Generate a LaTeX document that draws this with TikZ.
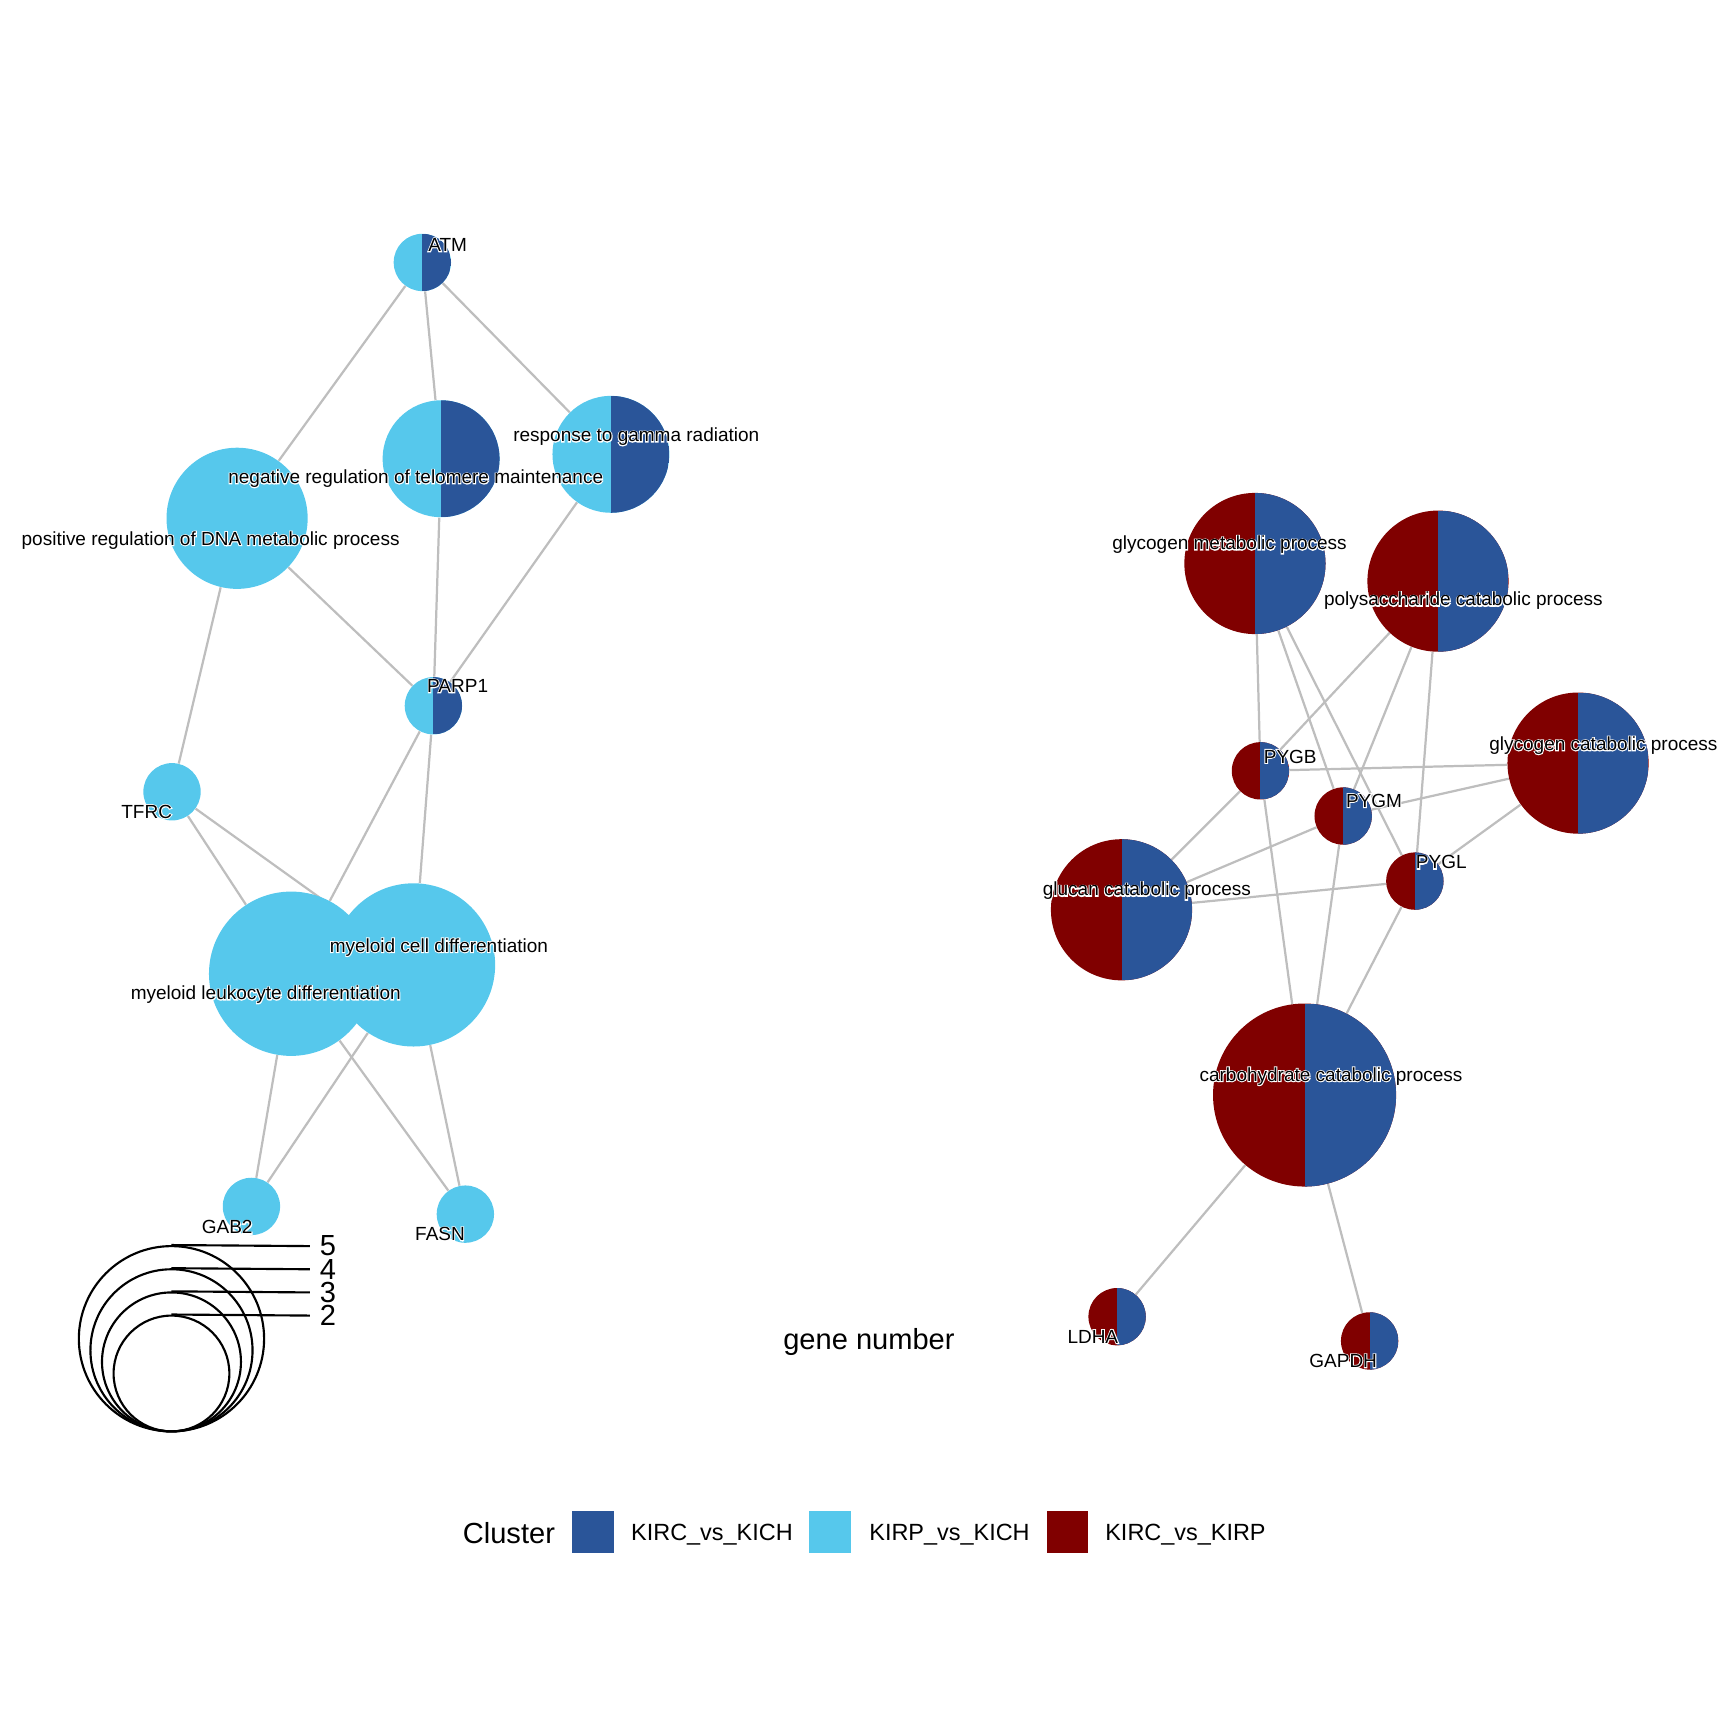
\documentclass[tikz,border=0pt]{standalone}
\usepackage{fontspec}
\setmainfont{Liberation Sans}
\newfontfamily\halofont[FakeBold=10]{Liberation Sans}
\usetikzlibrary{backgrounds}
\definecolor{kirckich}{HTML}{2A5599}
\definecolor{kirpkich}{HTML}{56C8EC}
\definecolor{kirckirp}{HTML}{800000}
\definecolor{edgegrey}{HTML}{BEBEBE}
\newcommand{\halo}[1]{\makebox[0pt][l]{\color{white}\halofont #1}#1}
\tikzset{
  term/.style={circle,inner sep=0pt,minimum size=#1},
  halves/.style 2 args={fill=#1,path picture={\fill[#2] (path picture bounding box.north) rectangle (path picture bounding box.south east);}},
  edge/.style={draw=edgegrey,line width=1.15pt},
  lbl/.style={inner sep=0pt,font=\fontsize{9.8}{11}\selectfont},
  ring/.style={circle,draw=black,line width=1.1pt,inner sep=0pt,minimum size=#1},
  ringline/.style={draw=black,line width=1.1pt},
  bigtext/.style={inner sep=0pt,font=\fontsize{15}{17}\selectfont},
  keybox/.style={fill=#1,inner sep=0pt,minimum size=7.6mm},
  keytext/.style={inner sep=0pt,anchor=base west,font=\fontsize{12.1}{14}\selectfont},
}
\begin{document}
\begin{tikzpicture}[x=0.2mm,y=-0.2mm]
\useasboundingbox (0,0) rectangle (1567,1567);
% left cluster
\node[term=10.4mm,halves={kirpkich}{kirckich}] (atm) at (383,238) {};
\node[term=21.2mm,halves={kirpkich}{kirckich}] (telomere) at (400,416) {};
\node[term=21.2mm,halves={kirpkich}{kirckich}] (gamma) at (554,412) {};
\node[term=25.6mm,fill=kirpkich] (posdna) at (215,470) {};
\node[term=10.4mm,halves={kirpkich}{kirckich}] (parp) at (393,640) {};
\node[term=10.4mm,fill=kirpkich] (tfrc) at (156,718) {};
\node[term=29.8mm,fill=kirpkich] (leuk) at (264,883) {};
\node[term=29.6mm,fill=kirpkich] (celldiff) at (375,875) {};
\node[term=10.4mm,fill=kirpkich] (gab) at (228,1094) {};
\node[term=10.4mm,fill=kirpkich] (fasn) at (422,1101) {};
% right cluster
\node[term=25.6mm,halves={kirckirp}{kirckich}] (glymet) at (1138,511) {};
\node[term=25.6mm,halves={kirckirp}{kirckich}] (polysac) at (1304,527) {};
\node[term=25.6mm,halves={kirckirp}{kirckich}] (glycat) at (1431,692) {};
\node[term=10.4mm,halves={kirckirp}{kirckich}] (pygb) at (1143,699) {};
\node[term=10.4mm,halves={kirckirp}{kirckich}] (pygm) at (1218,740) {};
\node[term=10.4mm,halves={kirckirp}{kirckich}] (pygl) at (1283,799) {};
\node[term=25.6mm,halves={kirckirp}{kirckich}] (glucan) at (1017,825) {};
\node[term=33.2mm,halves={kirckirp}{kirckich}] (carbo) at (1183,993) {};
\node[term=10.4mm,halves={kirckirp}{kirckich}] (ldha) at (1013,1194) {};
\node[term=10.4mm,halves={kirckirp}{kirckich}] (gapdh) at (1242,1216) {};
\begin{pgfonlayer}{background}
\draw[edge] (atm) -- (posdna) (atm) -- (telomere) (atm) -- (gamma);
\draw[edge] (parp) -- (posdna) (parp) -- (telomere) (parp) -- (gamma);
\draw[edge] (tfrc) -- (posdna) (tfrc) -- (leuk) (tfrc) -- (celldiff);
\draw[edge] (parp) -- (leuk) (parp) -- (celldiff);
\draw[edge] (gab) -- (leuk) (gab) -- (celldiff);
\draw[edge] (fasn) -- (leuk) (fasn) -- (celldiff);
\draw[edge] (pygb) -- (glymet) (pygb) -- (polysac) (pygb) -- (glycat) (pygb) -- (glucan) (pygb) -- (carbo);
\draw[edge] (pygm) -- (glymet) (pygm) -- (polysac) (pygm) -- (glycat) (pygm) -- (glucan) (pygm) -- (carbo);
\draw[edge] (pygl) -- (glymet) (pygl) -- (polysac) (pygl) -- (glycat) (pygl) -- (glucan) (pygl) -- (carbo);
\draw[edge] (ldha) -- (carbo) (gapdh) -- (carbo);
\end{pgfonlayer}
% labels
\node[lbl] (atm-l) at (406,222) {\halo{ATM}};
\node[lbl] (telomere-l) at (377,434) {\halo{negative regulation of telomere maintenance}};
\node[lbl] (gamma-l) at (577,396) {\halo{response to gamma radiation}};
\node[lbl] (posdna-l) at (191,490) {\halo{positive regulation of DNA metabolic process}};
\node[lbl] (parp-l) at (415,622) {\halo{PARP1}};
\node[lbl] (tfrc-l) at (133,736) {\halo{TFRC}};
\node[lbl] (celldiff-l) at (398,859) {\halo{myeloid cell differentiation}};
\node[lbl] (leuk-l) at (241,902) {\halo{myeloid leukocyte differentiation}};
\node[lbl] (gab-l) at (206,1113) {\halo{GAB2}};
\node[lbl] (fasn-l) at (399,1119) {\halo{FASN}};
\node[lbl] (glymet-l) at (1115,494) {\halo{glycogen metabolic process}};
\node[lbl] (polysac-l) at (1327,545) {\halo{polysaccharide catabolic process}};
\node[lbl] (glycat-l) at (1454,676) {\halo{glycogen catabolic process}};
\node[lbl] (pygb-l) at (1170,686) {\halo{PYGB}};
\node[lbl] (pygm-l) at (1246,726) {\halo{PYGM}};
\node[lbl] (pygl-l) at (1307,782) {\halo{PYGL}};
\node[lbl] (glucan-l) at (1040,808) {\halo{glucan catabolic process}};
\node[lbl] (carbo-l) at (1207,976) {\halo{carbohydrate catabolic process}};
\node[lbl] (ldha-l) at (991,1212) {\halo{LDHA}};
\node[lbl] (gapdh-l) at (1218,1234) {\halo{GAPDH}};
% size legend
\node[ring=33.6mm] (ring5) at (155.5,1214) {};
\node[ring=29.4mm] (ring4) at (155.5,1224.5) {};
\node[ring=25.2mm] (ring3) at (155.5,1235) {};
\node[ring=21mm] (ring2) at (155.5,1245.5) {};
\coordinate (tick5) at (281,1130);
\coordinate (tick4) at (281,1151);
\coordinate (tick3) at (281,1172);
\coordinate (tick2) at (281,1193);
\draw[ringline] (ring5.north) -- (tick5);
\draw[ringline] (ring4.north) -- (tick4);
\draw[ringline] (ring3.north) -- (tick3);
\draw[ringline] (ring2.north) -- (tick2);
\node[bigtext] (num5) at (297.5,1130) {5};
\node[bigtext] (num4) at (297.5,1151) {4};
\node[bigtext] (num3) at (297.5,1172) {3};
\node[bigtext] (num2) at (297.5,1193) {2};
\node[bigtext] (sizetitle) at (788,1217) {gene number};
% cluster legend
\node[bigtext] (clustertitle) at (461.5,1390) {Cluster};
\node[keybox=kirckich] (key1) at (538,1389) {};
\node[keybox=kirpkich] (key2) at (753,1389) {};
\node[keybox=kirckirp] (key3) at (968,1389) {};
\node[keytext] (key1-l) at (572,1396.5) {KIRC\_vs\_KICH};
\node[keytext] (key2-l) at (788,1396.5) {KIRP\_vs\_KICH};
\node[keytext] (key3-l) at (1002,1396.5) {KIRC\_vs\_KIRP};
\end{tikzpicture}
\end{document}
